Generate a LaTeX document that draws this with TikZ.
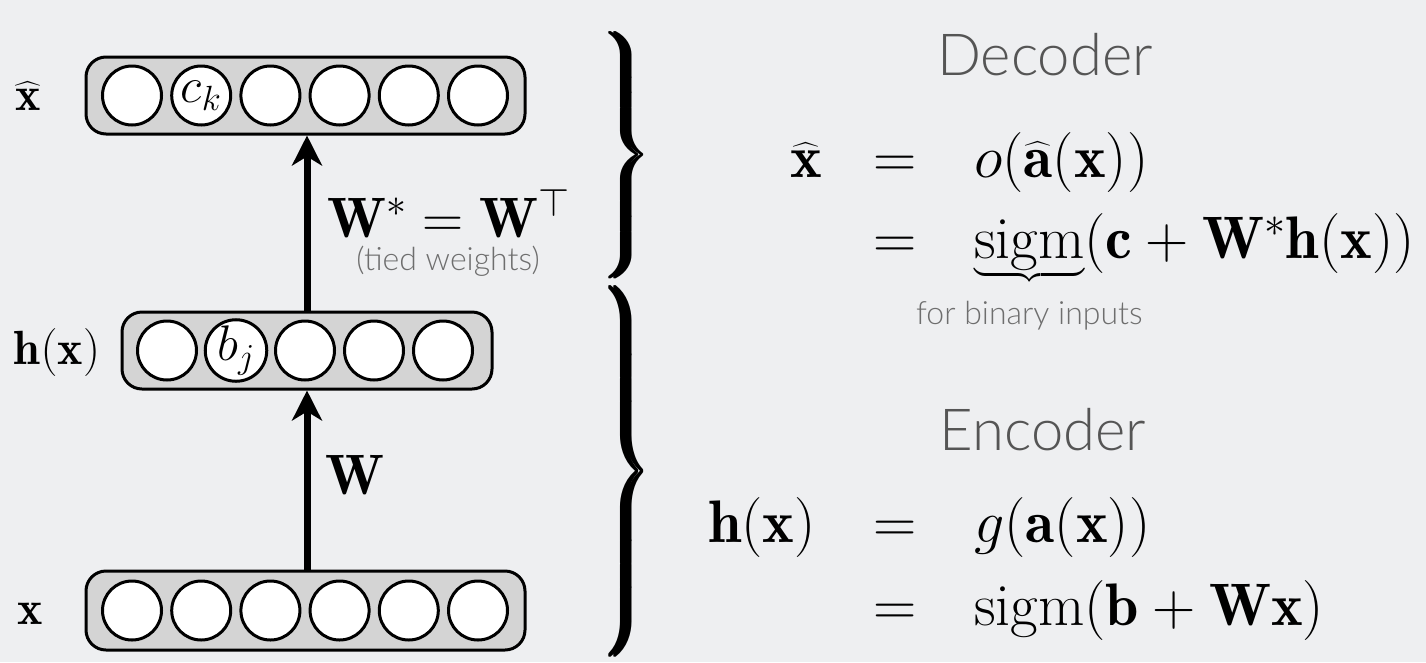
\RequirePackage{fix-cm}
\documentclass[tikz,border=0pt]{standalone}
\usepackage{exscale}
\usepackage{fontspec}
\usepackage{graphicx}
\newfontfamily\gillfont{Lato Light}
\usetikzlibrary{arrows.meta,calc,positioning}
\definecolor{bggray}{RGB}{238,239,241}
\definecolor{layergray}{RGB}{212,212,212}
\definecolor{titlegray}{RGB}{85,85,85}
\definecolor{notegray}{RGB}{110,110,110}
\tikzset{
  layerbox/.style={draw=black, line width=3pt, fill=layergray, rounded corners=20pt, minimum height=77pt, inner sep=0pt},
  neuron/.style={circle, draw=black, line width=3pt, fill=white, minimum size=59pt, inner sep=0pt, font=\fontsize{50}{60}\selectfont},
  weightarrow/.style={-{Stealth[length=30pt,width=30pt,inset=9pt]}, line width=7pt},
  mathlab/.style={inner sep=0pt, font=\fontsize{48}{58}\selectfont},
  wlabel/.style={inner sep=0pt, font=\fontsize{57}{68}\selectfont},
  eqn/.style={inner sep=0pt, font=\fontsize{60}{72}\selectfont},
  titletext/.style={inner sep=0pt, text=titlegray, font=\gillfont\fontsize{58}{70}\selectfont},
  notetext/.style={inner sep=0pt, text=notegray, font=\gillfont\fontsize{32}{38}\selectfont},
}
\newcommand{\notefont}{\color{notegray}\gillfont\fontsize{32}{38}\selectfont}
% a heavy curly brace of given height
\newcommand{\bigbrace}[1]{\rlap{\resizebox*{55pt}{#1}{$\left.\rule[-22pt]{0pt}{44pt}\right\}$}}%
  \kern5pt\resizebox*{55pt}{#1}{$\left.\rule[-22pt]{0pt}{44pt}\right\}$}}

\begin{document}
\begin{tikzpicture}[x=1pt,y=-1pt]

\fill[bggray] (0,0) rectangle (1426,662);
\useasboundingbox (0,0) rectangle (1426,662);

%output layer
\node[layerbox, minimum width=439pt] (xhatlayer) at (305.5,95.5) {};
\foreach \lab [count=\i] in {{},{$c_k$},{},{},{},{}}
  \node[neuron] (xhat\i) at ({132+69.2*(\i-1)},95.5) {\lab};
\node[mathlab] (xhatlab) at (28,96) {$\widehat{\mathbf{x}}$};

%hidden layer
\node[layerbox, minimum width=370pt] (hlayer) at (307,350.5) {};
\foreach \lab [count=\i] in {{},{$b_j$},{},{},{}}
  \node[neuron] (h\i) at ({167+69*(\i-1)},350.5) {\lab};
\node[mathlab] (hlab) at (57,352) {$\mathbf{h}(\mathbf{x})$};

%input layer
\node[layerbox, minimum width=439pt, minimum height=79pt] (xlayer) at (305.5,610.5) {};
\foreach \lab [count=\i] in {{},{},{},{},{},{}}
  \node[neuron] (x\i) at ({132+69.2*(\i-1)},610.5) {\lab};
\node[mathlab] (xlab) at (30,614) {$\mathbf{x}$};

%weights
\draw[weightarrow] (hlayer.south |- xlayer.north) -- (hlayer.south);
\draw[weightarrow] (hlayer.north) -- (hlayer.north |- xhatlayer.south);
\node[wlabel, anchor=base west] (wlab) at (325,494) {$\mathbf{W}$};
\node[wlabel, anchor=base west] (wtlab) at (327,237) {$\mathbf{W}^*=\mathbf{W}^\top$};
\node[notetext] (tiedlab) at (448,261) {(tied weights)};

%braces
\node[inner sep=0pt] (decbrace) at (623,156) {\bigbrace{250pt}};
\node[inner sep=0pt] (encbrace) at (623,473) {\bigbrace{376pt}};

%decoder
\node[titletext, anchor=base] (dectitle) at (1045,75) {Decoder};
\node[eqn, anchor=base east] (declhs) at (822,177) {$\widehat{\mathbf{x}}$};
\node[eqn, anchor=base] (deceqa) at (895,177) {$=$};
\node[eqn, anchor=base west] (decrhsa) at (974,177) {$o(\widehat{\mathbf{a}}(\mathbf{x}))$};
\node[eqn, anchor=base] (deceqb) at (895,258) {$=$};
\node[eqn, anchor=base west] (decrhsb) at (974,258)
  {$\underbrace{\mathrm{sigm}}_{\mbox{\makebox[0pt]{\raisebox{-30pt}{\notefont for binary inputs}}}}(\mathbf{c}+\mathbf{W}^*\mathbf{h}(\mathbf{x}))$};

%encoder
\node[titletext, anchor=base] (enctitle) at (1043,450) {Encoder};
\node[eqn, anchor=base east] (enclhs) at (816,542) {$\mathbf{h}(\mathbf{x})$};
\node[eqn, anchor=base] (enceqa) at (895,542) {$=$};
\node[eqn, anchor=base west] (encrhsa) at (974,542) {$g(\mathbf{a}(\mathbf{x}))$};
\node[eqn, anchor=base] (enceqb) at (895,625) {$=$};
\node[eqn, anchor=base west] (encrhsb) at (974,625) {$\mathrm{sigm}(\mathbf{b}+\mathbf{W}\mathbf{x})$};

\end{tikzpicture}
\end{document}
